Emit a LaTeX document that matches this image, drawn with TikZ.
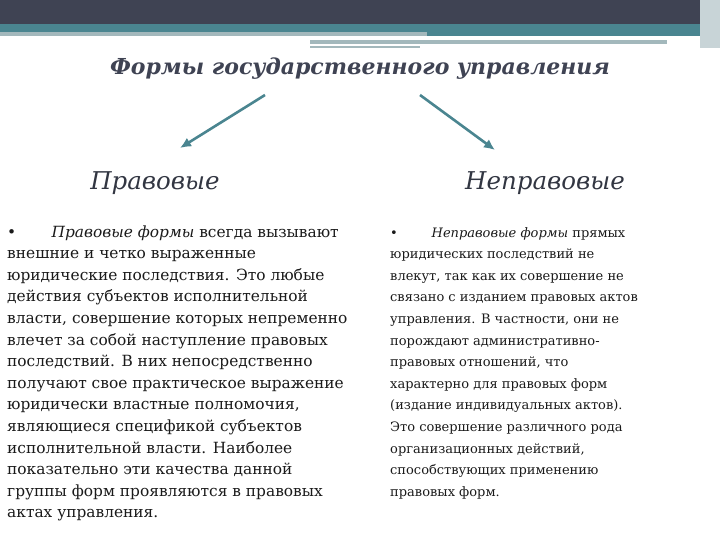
\documentclass[tikz,border=0pt]{standalone}
\usepackage{fontspec}
\setmainfont{DejaVu Serif}
\definecolor{dark}{HTML}{3F4353}
\definecolor{teal}{HTML}{4A8590}
\definecolor{lteal}{HTML}{A3B8BC}
\definecolor{txt}{HTML}{1A1A1A}
\begin{document}
\begin{tikzpicture}[x=1pt,y=-1pt,
  ln/.style={anchor=base west,inner sep=0,text=txt},
  hd/.style={font=\fontsize{24.5}{28}\itshape\selectfont,text=dark!80!black},
  arr/.style={teal,line width=2.6pt,-{Latex[length=11pt,width=10pt]}}]
\usetikzlibrary{arrows.meta}
\useasboundingbox (0,0) rectangle (720,540);
\fill[dark] (0,0) rectangle (720,24);
\fill[teal] (0,24) rectangle (720,32);
\fill[lteal] (0,32) rectangle (427,36);
\fill[teal] (427,32) rectangle (700,36);
\fill[lteal] (310,40) rectangle (667,44);
\fill[lteal] (310,46) rectangle (420,48);
\fill[lteal!60] (700,0) rectangle (720,48);
\node[font=\fontsize{22}{26}\bfseries\itshape\selectfont,text=dark] (t) at (360,69) {Формы государственного управления};
\node[hd] (l) at (155,183) {Правовые};
\node[hd] (r) at (545,183) {Неправовые};
\coordinate (a1) at (265,95); \coordinate (b1) at (180,148);
\coordinate (a2) at (420,95); \coordinate (b2) at (495,150);
\draw[arr] (a1) -- (b1);
\draw[arr] (a2) -- (b2);
\foreach \s [count=\i from 0] in {%
{•\hspace{2.3em}\textit{Правовые формы} всегда вызывают},
{внешние и четко выраженные},
{юридические последствия. Это любые},
{действия субъектов исполнительной},
{власти, совершение которых непременно},
{влечет за собой наступление правовых},
{последствий. В них непосредственно},
{получают свое практическое выражение},
{юридически властные полномочия,},
{являющиеся спецификой субъектов},
{исполнительной власти. Наиболее},
{показательно эти качества данной},
{группы форм проявляются в правовых},
{актах управления.}}
  \node[ln,font=\fontsize{15.4}{17}\selectfont] (L\i) at (7,237+21.6*\i) {\s};
\foreach \s [count=\i from 0] in {%
{•\hspace{2.6em}\textit{Неправовые формы} прямых},
{юридических последствий не},
{влекут, так как их совершение не},
{связано с изданием правовых актов},
{управления. В частности, они не},
{порождают административно-},
{правовых отношений, что},
{характерно для правовых форм},
{(издание индивидуальных актов).},
{Это совершение различного рода},
{организационных действий,},
{способствующих применению},
{правовых форм.}}
  \node[ln,font=\fontsize{13}{15}\selectfont] (R\i) at (390,237+21.6*\i) {\s};
\end{tikzpicture}
\end{document}
